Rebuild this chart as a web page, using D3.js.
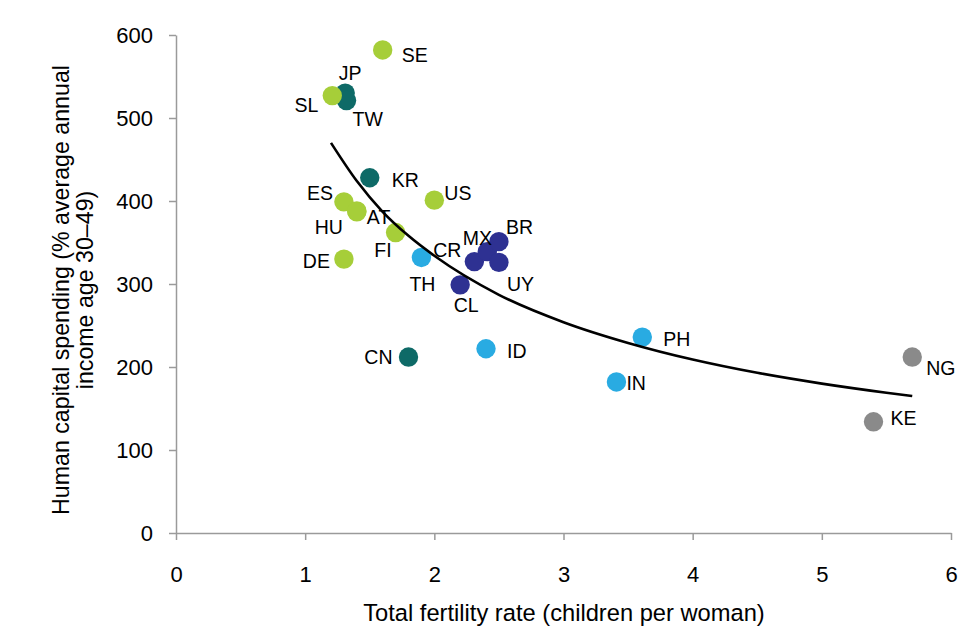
<!DOCTYPE html>
<html>
<head>
<meta charset="utf-8">
<script src="https://cdn.jsdelivr.net/npm/d3@7"></script>
<style>
  html, body { margin: 0; padding: 0; background: #fff; }
  svg { display: block; font-family: "Liberation Sans", Arial, Helvetica, sans-serif; }
</style>
</head>
<body>
<svg id="chart" width="959" height="629"></svg>
<script>
// ---- data ----
const countries = ["SL","JP","TW","KR","CN","ES","HU","AT","DE","FI","SE","US","TH","ID","IN","PH","CR","MX","BR","UY","CL","NG","KE"];
const fertility = [1.21, 1.31, 1.32, 1.50, 1.80, 1.30, 1.40, 1.40, 1.30, 1.70, 1.60, 2.00, 1.90, 2.40, 3.41, 3.61, 2.31, 2.41, 2.50, 2.50, 2.20, 5.70, 5.40];
const spending  = [527, 530, 521, 428, 212, 399, 387, 388, 330, 362, 582, 401, 332, 222, 182, 236, 327, 339, 351, 326, 299, 212, 134];
const groups    = ["europe","eastasia","eastasia","eastasia","eastasia","europe","europe","europe","europe","europe","europe","europe","asia","asia","asia","asia","latam","latam","latam","latam","latam","africa","africa"];

// fitted trend line
const trendX = [1.2, 1.4, 1.6, 1.8, 2.0, 2.5, 3.0, 3.5, 4.0, 4.5, 5.0, 5.5, 5.7];
const trendY = [470, 424, 387, 358, 334, 287, 254, 229, 209, 193, 180, 169, 165];

const xTicks = [0, 1, 2, 3, 4, 5, 6];
const yTicks = [0, 100, 200, 300, 400, 500, 600];

const xTitle = "Total fertility rate (children per woman)";
const yTitle = ["Human capital spending (% average annual", "income age 30\u201349)"];

// ---- styles / layout ----
const groupColor = {
  europe: "#a6ce39",
  eastasia: "#0e6a67",
  asia: "#29abe2",
  latam: "#2e3192",
  africa: "#8a8a8a"
};
const drawOrder = ["eastasia", "asia", "latam", "africa", "europe"];
// label placement relative to point centre: [dx, dy, anchor]
const labelPos = {
  SE: [19, 12, "start"], JP: [5, -13, "middle"], TW: [6, 25, "start"], SL: [-14, 16, "end"],
  KR: [22, 9, "start"], US: [10, 0, "start"], ES: [-11, -2, "end"], HU: [-14, 22, "end"],
  AT: [10, 13, "start"], FI: [-4, 24, "end"], DE: [-14, 9, "end"], TH: [1, 34, "middle"],
  CR: [-13, -5, "end"], MX: [-10, -7, "middle"], BR: [7, -8, "start"], UY: [8, 29, "start"],
  CL: [6, 27, "middle"], CN: [-16, 7, "end"], ID: [21, 9, "start"], PH: [21, 9, "start"],
  IN: [10, 8, "start"], NG: [14, 18, "start"], KE: [17, 3, "start"]
};

const svg = d3.select("#chart");
const x = d3.scaleLinear().domain([0, 6]).range([176, 951]);
const y = d3.scaleLinear().domain([0, 600]).range([533, 35]);

const axisColor = "#9a9a9a";
const font = "'Liberation Sans', Arial, sans-serif";

// y axis
const gy = svg.append("g").attr("transform", `translate(${x(0)},0)`)
  .call(d3.axisLeft(y).tickValues(yTicks).tickFormat(d3.format("d"))
    .tickSize(7).tickPadding(16).tickSizeOuter(0));
gy.select(".domain").attr("stroke", axisColor).attr("stroke-width", 1.5);
gy.selectAll(".tick line").attr("stroke", axisColor).attr("stroke-width", 1.5);
gy.selectAll(".tick text").attr("font-size", 22).attr("fill", "#000").attr("font-family", font);

// x axis
const gx = svg.append("g").attr("transform", `translate(0,${y(0)})`)
  .call(d3.axisBottom(x).tickValues(xTicks).tickFormat(d3.format("d"))
    .tickSize(7).tickPadding(26).tickSizeOuter(0));
gx.select(".domain").attr("stroke", axisColor).attr("stroke-width", 1.5);
gx.selectAll(".tick line").attr("stroke", axisColor).attr("stroke-width", 1.5);
gx.selectAll(".tick text").attr("font-size", 22).attr("fill", "#000").attr("font-family", font);

// axis titles
svg.append("text")
  .attr("x", 564).attr("y", 621)
  .attr("text-anchor", "middle").attr("font-size", 23.7).attr("fill", "#000")
  .text(xTitle);

const yt = svg.append("text")
  .attr("transform", "translate(68.5,290) rotate(-90)")
  .attr("text-anchor", "middle").attr("font-size", 23.2).attr("fill", "#000");
yt.selectAll("tspan").data(yTitle).join("tspan")
  .attr("x", 0).attr("dy", (d, i) => i === 0 ? 0 : 24.5).text(d => d);

// points
const data = countries.map((c, i) => ({ c, fx: fertility[i], sp: spending[i], g: groups[i] }));
const drawn = data.slice().sort((a, b) => drawOrder.indexOf(a.g) - drawOrder.indexOf(b.g));

svg.append("g").selectAll("circle").data(drawn).join("circle")
  .attr("cx", d => x(d.fx)).attr("cy", d => y(d.sp)).attr("r", 9.7)
  .attr("fill", d => groupColor[d.g]);

// trend line (on top of points)
const trend = trendX.map((v, i) => [v, trendY[i]]);
svg.append("path").datum(trend)
  .attr("fill", "none").attr("stroke", "#000").attr("stroke-width", 2.6)
  .attr("d", d3.line().x(d => x(d[0])).y(d => y(d[1])).curve(d3.curveMonotoneX));

// labels
svg.append("g").selectAll("text").data(data).join("text")
  .attr("x", d => x(d.fx) + labelPos[d.c][0])
  .attr("y", d => y(d.sp) + labelPos[d.c][1])
  .attr("text-anchor", d => labelPos[d.c][2])
  .attr("font-size", 19.5).attr("fill", "#000").attr("font-family", font)
  .text(d => d.c);
</script>
</body>
</html>
